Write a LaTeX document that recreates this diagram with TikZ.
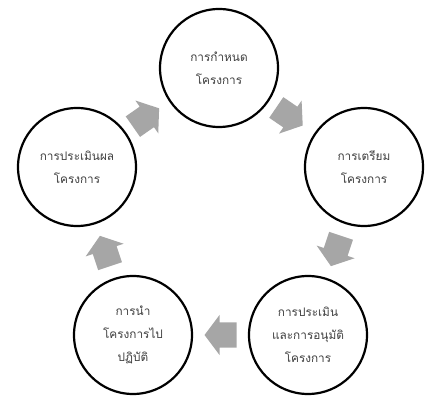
\documentclass[tikz,border=0pt]{standalone}
\usepackage{fontspec}
\usetikzlibrary{calc}
\newfontfamily\thaifont[Script=Thai]{Loma}
\definecolor{arrgray}{HTML}{A6A6A6}
\definecolor{txtgray}{HTML}{404040}
\tikzset{
  stage/.style={circle, draw=black, line width=2.2pt, minimum size=118pt, inner sep=0pt,
    align=center, text=txtgray, font=\thaifont\fontsize{11.8}{23}\selectfont},
  blockarrow/.style={fill=arrgray, draw=none}
}
\newcommand{\blockarr}[2]{%
  \fill[blockarrow, shift={(#1)}, rotate=#2]
    (-16,-12.5) -- (1,-12.5) -- (1,-20) -- (16,0) -- (1,20) -- (1,12.5) -- (-16,12.5) -- cycle;}
\begin{document}
\begin{tikzpicture}[x=1pt,y=-1pt]
\useasboundingbox[fill=white] (0,0) rectangle (436,411);
\node[stage] (c1) at (219,68) {การกำหนด\\โครงการ};
\node[stage] (c2) at (364,167) {การเตรียม\\โครงการ};
\node[stage] (c5) at (308,335) {การประเมิน\\และการอนุมัติ\\โครงการ};
\node[stage] (c4) at (133,335) {การนำ\\โครงการไป\\ปฏิบัติ};
\node[stage] (c3) at (77,167) {การประเมินผล\\โครงการ};
\coordinate (m12) at ($(c1)!0.5!(c2)+(-2,-1)$);
\coordinate (m25) at ($(c2)!0.5!(c5)$);
\coordinate (m54) at ($(c5)!0.5!(c4)$);
\coordinate (m43) at ($(c4)!0.5!(c3)$);
\coordinate (m31) at ($(c3)!0.5!(c1)+(-2,0)$);
\blockarr{m12}{-34.3}
\blockarr{m25}{-108.4}
\blockarr{m54}{180}
\blockarr{m43}{108.4}
\blockarr{m31}{34.9}
\end{tikzpicture}
\end{document}
